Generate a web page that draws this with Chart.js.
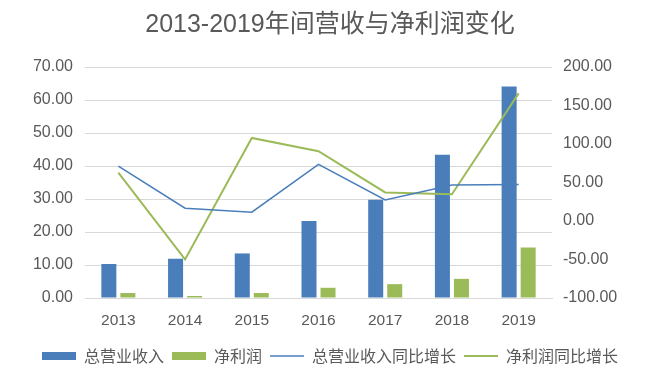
<!DOCTYPE html>
<html>
<head>
<meta charset="utf-8">
<script src="https://cdn.jsdelivr.net/npm/chart.js@4/dist/chart.umd.min.js"></script>
<style>
  html, body { margin: 0; padding: 0; background: #ffffff; }
  #wrap { width: 660px; height: 374px; position: relative; }
</style>
</head>
<body>
<div id="wrap"><canvas id="c" width="660" height="374"></canvas></div>
<script>
const categories = ['2013', '2014', '2015', '2016', '2017', '2018', '2019'];
const revenue = [10.3, 11.9, 13.5, 23.3, 29.8, 43.4, 64.1];
const netProfit = [1.5, 0.6, 1.5, 3.1, 4.2, 5.8, 15.3];
const revenueGrowth = [71.4, 16.6, 11.4, 73.6, 27.3, 46.6, 47.4];
const profitGrowth = [62.9, -49.9, 107.9, 90.7, 37.1, 34.6, 165.7];
const seriesNames = ['总营业收入', '净利润', '总营业收入同比增长', '净利润同比增长'];
const titleText = '2013-2019年间营收与净利润变化';

const textColor = '#595959';
const numFont = '"Liberation Sans", Arial, sans-serif';
const cjkFont = '"Noto Sans CJK SC", "Liberation Sans", sans-serif';
const blue = '#4A7EBB';
const green = '#9BBB59';

new Chart(document.getElementById('c'), {
  type: 'bar',
  data: {
    labels: categories,
    datasets: [
      { type: 'bar', label: seriesNames[0], data: revenue, backgroundColor: blue, borderWidth: 0,
        yAxisID: 'y', order: 2, pointStyle: 'rect', categoryPercentage: 0.57, barPercentage: 0.79 },
      { type: 'bar', label: seriesNames[1], data: netProfit, backgroundColor: green, borderWidth: 0,
        yAxisID: 'y', order: 2, pointStyle: 'rect', categoryPercentage: 0.57, barPercentage: 0.79 },
      { type: 'line', label: seriesNames[2], data: revenueGrowth, borderColor: blue, backgroundColor: blue,
        borderWidth: 1.5, pointRadius: 0, tension: 0, yAxisID: 'y1', order: 0, pointStyle: 'line' },
      { type: 'line', label: seriesNames[3], data: profitGrowth, borderColor: green, backgroundColor: green,
        borderWidth: 2, pointRadius: 0, tension: 0, yAxisID: 'y1', order: 0, pointStyle: 'line' }
    ]
  },
  options: {
    responsive: false,
    animation: false,
    devicePixelRatio: 1,
    layout: { padding: { top: 0, bottom: 0, left: 0, right: 0 } },
    plugins: {
      title: {
        display: true, text: titleText, color: textColor,
        font: { family: numFont + ', "Noto Sans CJK SC"', size: 25, weight: 'normal' },
        padding: { top: 10, bottom: 27 }
      },
      legend: {
        display: true, position: 'bottom',
        labels: {
          color: textColor,
          font: { family: cjkFont, size: 16 },
          usePointStyle: true, pointStyleWidth: 34, boxHeight: 8, boxWidth: 34,
          padding: 8,
          sort: (a, b) => a.datasetIndex - b.datasetIndex
        }
      },
      tooltip: { enabled: false }
    },
    scales: {
      x: {
        grid: { display: false, drawTicks: false },
        border: { display: true, color: '#d9d9d9', width: 1 },
        ticks: { color: textColor, font: { family: numFont, size: 15.5 }, padding: 13, maxRotation: 0 },
        afterFit: (s) => { s.height = 42; }
      },
      y: {
        position: 'left', min: 0, max: 70,
        grid: { color: '#d9d9d9', lineWidth: 1, drawTicks: false },
        border: { display: false },
        ticks: { stepSize: 10, color: textColor, font: { family: numFont, size: 16 }, padding: 12,
          callback: (v) => Number(v).toFixed(2) },
        afterFit: (s) => { s.width = 85; }
      },
      y1: {
        position: 'right', min: -100, max: 200,
        grid: { display: false, drawTicks: false },
        border: { display: false },
        ticks: { stepSize: 50, color: textColor, font: { family: numFont, size: 16 }, padding: 11,
          callback: (v) => Number(v).toFixed(2) },
        afterFit: (s) => { s.width = 108; }
      }
    }
  }
});
</script>
</body>
</html>
